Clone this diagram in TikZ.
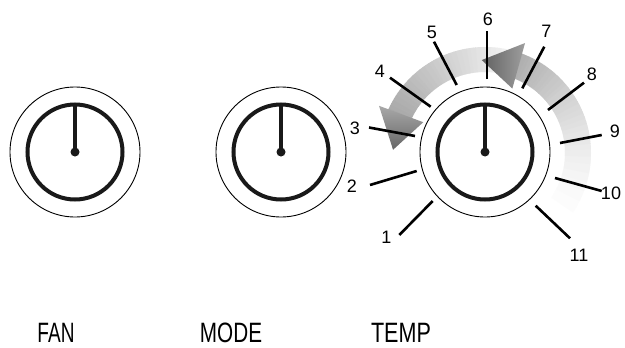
\documentclass[tikz,border=0pt]{standalone}
\usepackage{fontspec}
\setmainfont{Liberation Sans}
\usetikzlibrary{calc}
\tikzset{
  outerring/.style={draw=black, line width=0.9pt},
  innerring/.style={draw=black!90, line width=4pt},
  pointer/.style={draw=black!90, line width=4pt},
  tick/.style={draw=black, line width=2.6pt},
  num/.style={font=\fontsize{18}{20}\selectfont, inner sep=0pt},
  knoblabel/.style={font=\fontsize{28}{29}\selectfont, inner sep=0pt, anchor=base}
}
\newcommand{\drawknob}[2]{%
  \begin{scope}[shift={(#1,#2)}]
    \draw[outerring] (0,0) circle (65);
    \draw[innerring] (0,0) circle (47.5);
    \draw[pointer] (0,0) -- (0,47.5);
    \fill[black!90] (0,0) circle (4.5);
  \end{scope}}
\begin{document}
\begin{tikzpicture}[x=1pt,y=1pt]
\useasboundingbox (0,0) rectangle (625,-348);
\fill[white] (0,0) rectangle (625,-348);

% ---- gray arrows around TEMP knob ----
\begin{scope}[shift={(485,-153)}]
  % left arrow shaft (from tail near top to head at left)
  \foreach \a in {78,79,...,155}{
    \pgfmathtruncatemacro{\p}{6+28*(\a-78)/77}
    \fill[black!\p] (\a:81) arc[start angle=\a, end angle=\a+1.3, radius=81]
      -- (\a+1.3:106) arc[start angle=\a+1.3, end angle=\a, radius=106] -- cycle;
  }
  % left arrow head
  \shade[top color=black!34, bottom color=black!60]
    (156:116) -- (178:92) -- (153.5:69) -- cycle;
  % right arrow shaft (fading at bottom right)
  \foreach \a in {-48,-47,...,69}{
    \pgfmathtruncatemacro{\p}{32*((\a+48)/117)^1.6}
    \fill[black!\p] (\a:80) arc[start angle=\a, end angle=\a+1.3, radius=80]
      -- (\a+1.3:106) arc[start angle=\a+1.3, end angle=\a, radius=106] -- cycle;
  }
  % right arrow head
  \shade[left color=black!62, right color=black!38]
    (70:117) -- (92:93) -- (67:70) -- cycle;
\end{scope}

% ---- knobs ----
\drawknob{75}{-152}
\drawknob{281}{-152}
\drawknob{485}{-152}

% ---- ticks ----
\coordinate (t1i) at (432.7,-201);   \coordinate (t1o) at (399.3,-235);
\coordinate (t2i) at (416.7,-171);   \coordinate (t2o) at (370,-185);
\coordinate (t3i) at (415,-136);     \coordinate (t3o) at (369,-127.5);
\coordinate (t4i) at (430.7,-106.7); \coordinate (t4o) at (390,-77.7);
\coordinate (t5i) at (456.7,-85);    \coordinate (t5o) at (434,-41.7);
\coordinate (t6i) at (487,-79);      \coordinate (t6o) at (487,-31);
\coordinate (t7i) at (522.3,-88.3);  \coordinate (t7o) at (544.3,-46.7);
\coordinate (t8i) at (548,-110);     \coordinate (t8o) at (584,-82.7);
\coordinate (t9i) at (560,-143);     \coordinate (t9o) at (601.7,-135);
\coordinate (t10i) at (555,-178);    \coordinate (t10o) at (601.7,-191);
\coordinate (t11i) at (535.7,-205.7);\coordinate (t11o) at (570,-238.3);
\foreach \k in {1,...,11}{\draw[tick] (t\k i) -- (t\k o);}

% ---- numbers ----
\node[num] (n1)  at (386.5,-237) {1};
\node[num] (n2)  at (352,-186)   {2};
\node[num] (n3)  at (355,-128)   {3};
\node[num] (n4)  at (380,-71)    {4};
\node[num] (n5)  at (432,-32)    {5};
\node[num] (n6)  at (488,-19)    {6};
\node[num] (n7)  at (546.5,-31)  {7};
\node[num] (n8)  at (592,-74)    {8};
\node[num] (n9)  at (615,-131)   {9};
\node[num] (n10) at (611,-193)   {10};
\node[num] (n11) at (579,-255)   {11};

% ---- knob labels ----
\node[knoblabel] (fan)  at (56,-342)  {\scalebox{0.68}[1]{FAN}};
\node[knoblabel] (mode) at (231,-342) {\scalebox{0.74}[1]{MODE}};
\node[knoblabel] (temp) at (401,-342) {\scalebox{0.77}[1]{TEMP}};
\end{tikzpicture}
\end{document}
